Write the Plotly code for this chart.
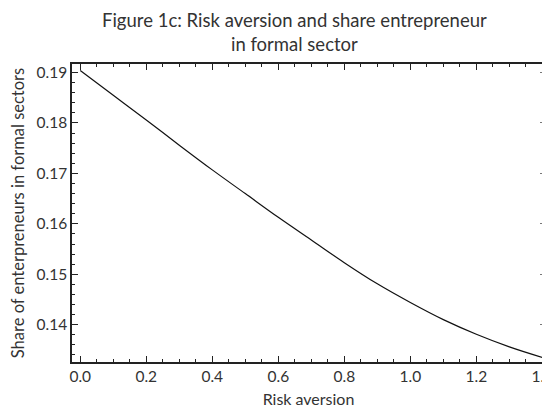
import plotly.graph_objects as go

risk_aversion = [0.0, 0.1, 0.2, 0.3, 0.4, 0.5, 0.6, 0.7, 0.8, 0.9, 1.0, 1.1, 1.2, 1.3, 1.4]
share_formal = [0.1904, 0.1855, 0.1806, 0.1756, 0.1707, 0.1660, 0.1613, 0.1568,
                0.1523, 0.1481, 0.1444, 0.1410, 0.1381, 0.1356, 0.1335]

title_text = "Figure 1c: Risk aversion and share entrepreneur<br>in formal sector"
x_title = "Risk aversion"
y_title = "Share of enterpreneurs in formal sectors"

FONT = "Lato"
AX = "#222222"
TXT = "#333333"

fig = go.Figure()
fig.add_trace(go.Scatter(x=risk_aversion, y=share_formal, mode="lines",
                         line=dict(color="#111111", width=1.2, shape="spline"),
                         showlegend=False))
fig.add_trace(go.Scatter(x=risk_aversion, y=share_formal, mode="lines",
                         line=dict(width=0), opacity=0, yaxis="y2",
                         hoverinfo="skip", showlegend=False))

fig.update_layout(
    width=542, height=400,
    margin=dict(l=64, r=5, t=56, b=46),
    paper_bgcolor="white", plot_bgcolor="white",
    font=dict(family=FONT, color=TXT),
    xaxis=dict(range=[-0.025, 1.408], tickvals=[0, 0.2, 0.4, 0.6, 0.8, 1.0, 1.2, 1.4],
               ticktext=["0.0", "0.2", "0.4", "0.6", "0.8", "1.0", "1.2", "1.4"],
               showline=True, linecolor=AX, linewidth=1.5, mirror="ticks",
               ticks="inside", ticklen=6, tickcolor=AX, tickwidth=1.2,
               minor=dict(dtick=0.05, tick0=0, ticks="inside", ticklen=3, tickcolor=AX, tickwidth=1),
               showgrid=False, zeroline=False, automargin=False,
               ticklabeloverflow="allow",
               tickfont=dict(size=15.5, family=FONT, color=TXT),
               title=dict(text=x_title, font=dict(size=16, family=FONT, color=TXT), standoff=11)),
    yaxis=dict(range=[0.1326, 0.1917], tickvals=[0.14, 0.15, 0.16, 0.17, 0.18, 0.19],
               ticktext=["0.14", "0.15", "0.16", "0.17", "0.18", "0.19"],
               showline=True, linecolor=AX, linewidth=1.5,
               ticks="inside", ticklen=6, tickcolor=AX, tickwidth=1.2,
               minor=dict(dtick=0.002, tick0=0.14, ticks="inside", ticklen=3, tickcolor=AX, tickwidth=1),
               showgrid=False, zeroline=False, automargin=False,
               tickfont=dict(size=15.5, family=FONT, color=TXT),
               title=dict(text=y_title, font=dict(size=16.5, family=FONT, color=TXT), standoff=12)),
    yaxis2=dict(overlaying="y", side="right", matches="y", showline=False,
                tickvals=[0.14, 0.15, 0.16, 0.17, 0.18, 0.19], showticklabels=False,
                ticks="inside", ticklen=5, tickcolor="#777777", tickwidth=1,
                minor=dict(dtick=0.002, tick0=0.14, ticks="inside", ticklen=2, tickcolor="#777777", tickwidth=1),
                showgrid=False, zeroline=False, automargin=False),
    annotations=[dict(text=title_text, xref="paper", yref="paper", x=0.471, y=1.0,
                      yshift=32, yanchor="middle", xanchor="center", showarrow=False,
                      font=dict(size=18.5, family=FONT, color=TXT))],
)

fig.write_html("out.html")
